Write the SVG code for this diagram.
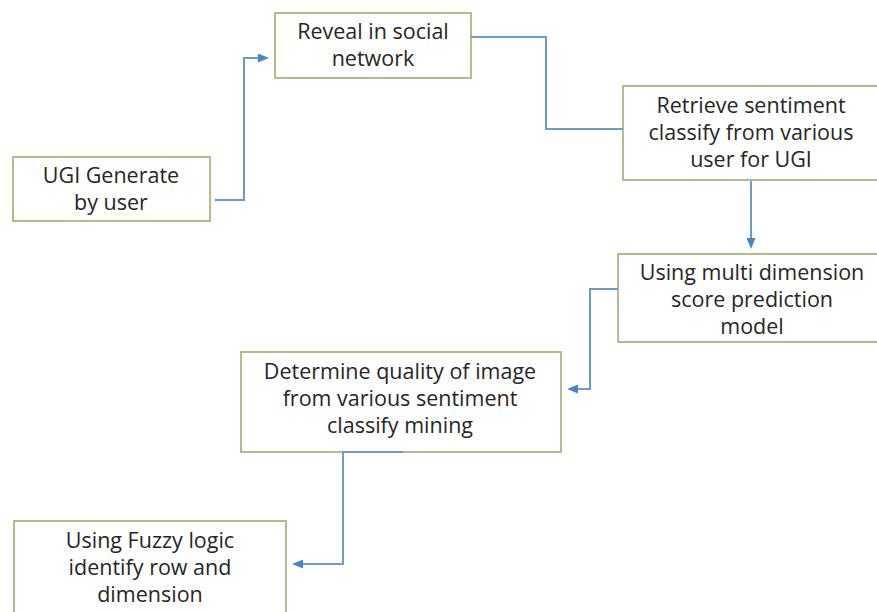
<svg xmlns="http://www.w3.org/2000/svg" width="877" height="612" viewBox="0 0 877 612">
<style>
.box{fill:#ffffff;stroke:#9aae70;stroke-width:1.6}
.lbl{font-family:"Open Sans","Noto Sans","Liberation Sans",sans-serif;font-size:21.5px;fill:#262626;text-anchor:middle}
.con{fill:none;stroke:#6d9bc6;stroke-width:2}
</style>
<defs>
<marker id="arr" markerUnits="userSpaceOnUse" markerWidth="11" markerHeight="9" refX="8" refY="4.5" orient="auto">
<path d="M0,0 L11,4.5 L0,9 z" fill="#4a86c4"/>
</marker>
</defs>
<rect width="877" height="612" fill="#ffffff"/>
<g id="n-ugi">
<rect class="box" x="13" y="157" width="197" height="64"/>
<text class="lbl" x="111" y="183">UGI Generate</text>
<text class="lbl" x="111" y="210">by user</text>
</g>
<g id="n-reveal">
<rect class="box" x="275" y="13" width="196" height="65"/>
<text class="lbl" x="373" y="39">Reveal in social</text>
<text class="lbl" x="373" y="66">network</text>
</g>
<g id="n-retrieve">
<rect class="box" x="623" y="86" width="260" height="94"/>
<text class="lbl" x="751" y="113">Retrieve sentiment</text>
<text class="lbl" x="751" y="140">classify from various</text>
<text class="lbl" x="751" y="167">user for UGI</text>
</g>
<g id="n-multi">
<rect class="box" x="618" y="254" width="265" height="88"/>
<text class="lbl" x="752" y="280">Using multi dimension</text>
<text class="lbl" x="752" y="307">score prediction</text>
<text class="lbl" x="752" y="334">model</text>
</g>
<g id="n-determine">
<rect class="box" x="241" y="352" width="320" height="100"/>
<text class="lbl" x="400" y="379">Determine quality of image</text>
<text class="lbl" x="400" y="406">from various sentiment</text>
<text class="lbl" x="400" y="433">classify mining</text>
</g>
<g id="n-fuzzy">
<rect class="box" x="14" y="521" width="272" height="110"/>
<text class="lbl" x="150" y="548">Using Fuzzy logic</text>
<text class="lbl" x="150" y="575">identify row and</text>
<text class="lbl" x="150" y="602">dimension</text>
</g>
<g id="connectors">
<path class="con" d="M215,200 H244 V58 H266" marker-end="url(#arr)"/>
<path class="con" d="M471,37 H546 V129 H623"/>
<path class="con" d="M751,181 V246" marker-end="url(#arr)"/>
<path class="con" d="M618,289 H590 V389 H570" marker-end="url(#arr)"/>
<path class="con" d="M403,452 H343 V564 H295" marker-end="url(#arr)"/>
</g>
</svg>
